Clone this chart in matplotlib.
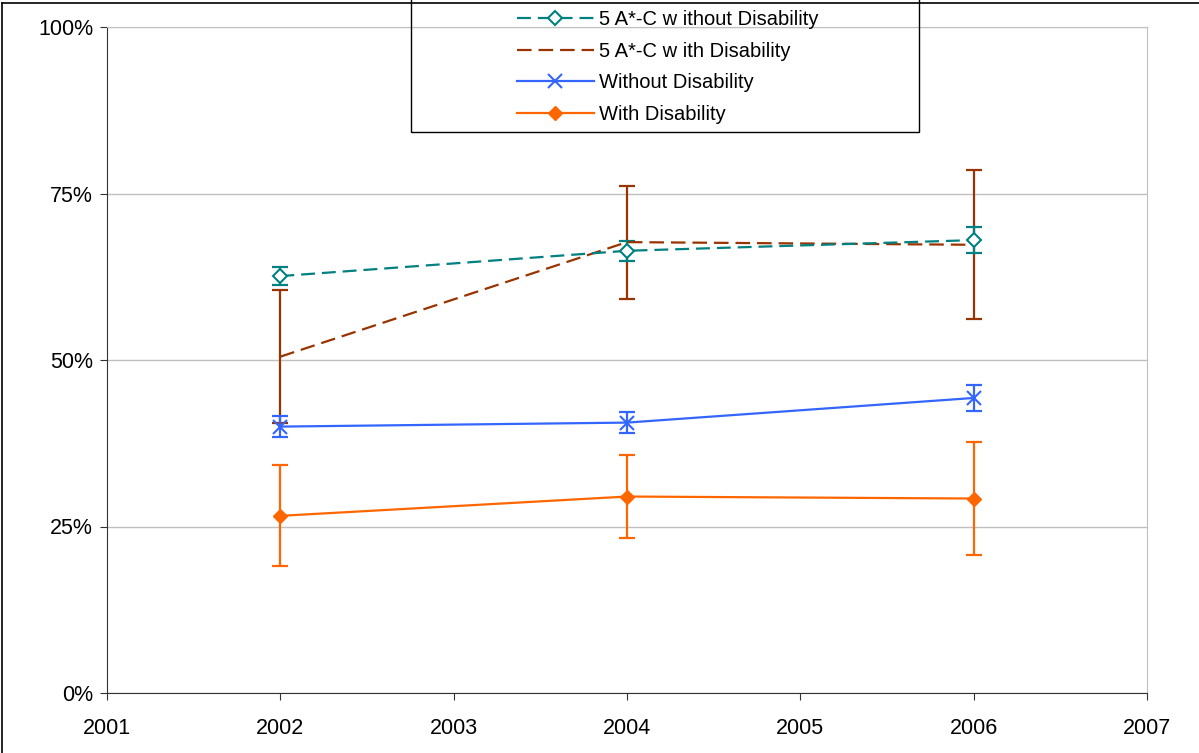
import numpy as np
import matplotlib.pyplot as plt
from matplotlib.lines import Line2D
from matplotlib.patches import Rectangle

plt.rcParams['font.family'] = ['Liberation Sans', 'DejaVu Sans']
plt.rcParams['lines.scale_dashes'] = False

years = [2002, 2004, 2006]

# 5 A*-C grades, pupils without / with a disability
ac_without = [62.6, 66.4, 68.0]
ac_without_err = [1.4, 1.5, 2.0]
ac_with = [50.5, 67.7, 67.3]
ac_with_err = [10.0, 8.5, 11.2]

# overall attainment
without_dis = [40.0, 40.6, 44.3]
without_dis_err = [1.6, 1.6, 1.9]
with_dis = [26.6, 29.5, 29.2]
with_dis_err = [7.6, 6.3, 8.5]

labels = ['5 A*-C w ithout Disability', '5 A*-C w ith Disability',
          'Without Disability', 'With Disability']

teal = '#008080'
brown = '#993300'
blue = '#3366FF'
orange = '#FF6600'
lw = 1.6

fig = plt.figure(figsize=(11.99, 7.53), dpi=100)
ax = fig.add_axes([107/1199, 1-693/753, (1147-107)/1199, (693-27)/753])

# error bars first, then the lines on top
ax.errorbar(years, ac_with, yerr=ac_with_err, fmt='none', ecolor=brown,
            elinewidth=lw, capsize=5.5, capthick=lw, zorder=2)
ax.errorbar(years, ac_without, yerr=ac_without_err, fmt='none', ecolor=teal,
            elinewidth=lw, capsize=5.5, capthick=lw, zorder=3)
ax.errorbar(years, without_dis, yerr=without_dis_err, fmt='none', ecolor=blue,
            elinewidth=lw, capsize=5.5, capthick=lw, zorder=3)
ax.errorbar(years, with_dis, yerr=with_dis_err, fmt='none', ecolor=orange,
            elinewidth=lw, capsize=5.5, capthick=lw, zorder=3)

l1, = ax.plot(years, ac_without, color=teal, lw=lw, dashes=(10, 5),
              marker='D', ms=7, mfc='white', mec=teal, mew=1.5, zorder=4)
l2, = ax.plot(years, ac_with, color=brown, lw=lw, dashes=(10.5, 5), zorder=3)
l3, = ax.plot(years, without_dis, color=blue, lw=lw,
              marker='x', ms=10, mew=1.5, zorder=4)
l4, = ax.plot(years, with_dis, color=orange, lw=lw,
              marker='D', ms=7, mfc=orange, mec=orange, zorder=4)

ax.set_xlim(2001, 2007)
ax.set_ylim(0, 100)
ax.set_xticks(range(2001, 2008))
ax.set_yticks([0, 25, 50, 75, 100])
ax.set_yticklabels(['0%', '25%', '50%', '75%', '100%'])
ax.tick_params(axis='both', labelsize=15.5, direction='out', color='#333333')
ax.tick_params(axis='y', length=5, pad=5)
ax.tick_params(axis='x', length=5, pad=13)

ax.grid(axis='y', color='#c0c0c0', lw=1)
ax.set_axisbelow(True)
ax.spines['left'].set_color('#333333')
ax.spines['bottom'].set_color('#333333')
ax.spines['top'].set_color('#c0c0c0')
ax.spines['right'].set_color('#c0c0c0')

# legend box, running off the top of the figure
fig.add_artist(Rectangle((411/1199, 1-132/753), (919-411)/1199, 140/753,
                         transform=fig.transFigure, fill=False,
                         edgecolor='black', lw=1))
fig.legend([l1, l2, l3, l4], labels, loc='upper left', frameon=False,
           bbox_to_anchor=(499/1199, 1+8/753), fontsize=14.5,
           handlelength=3.8, handletextpad=0.25, labelspacing=0.62)

# outer border of the chart area
fig.add_artist(Line2D([1.5/1199, 1.5/1199], [0, 1-3/753], color='black', lw=1.2,
                      transform=fig.transFigure))
fig.add_artist(Line2D([1.5/1199, 1], [1-3/753, 1-3/753], color='black', lw=1.2,
                      transform=fig.transFigure))

plt.savefig('out.png', dpi=100)
